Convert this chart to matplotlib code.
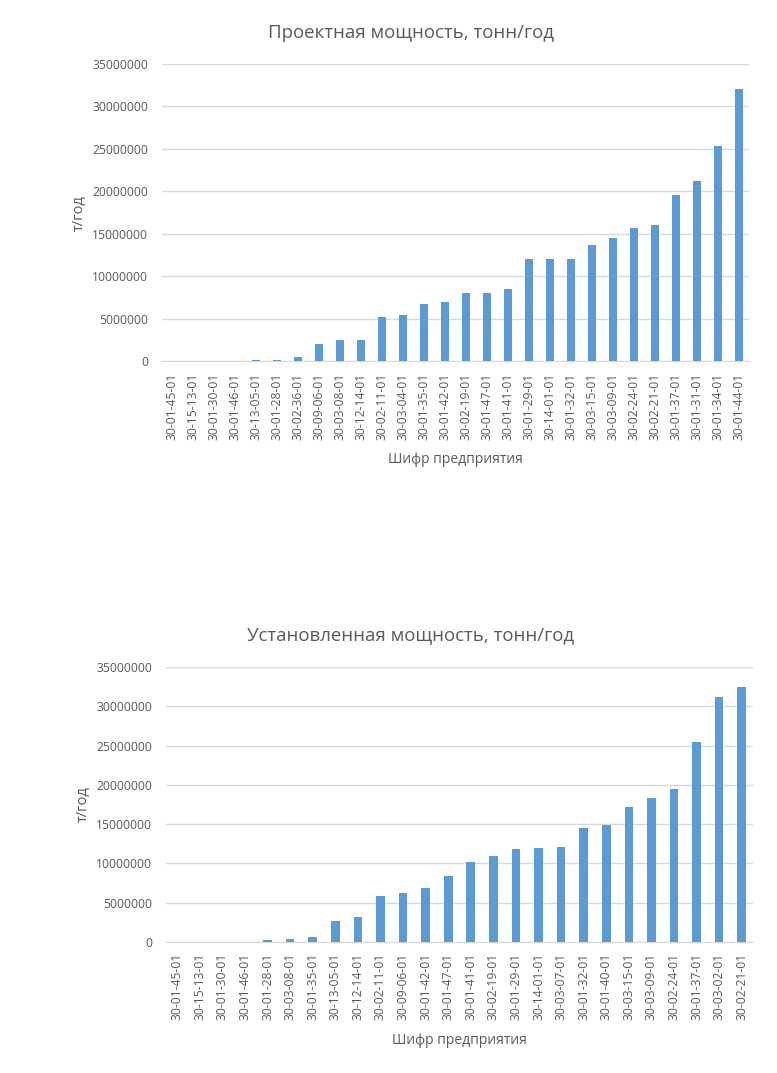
import matplotlib.pyplot as plt

# Проектная мощность
design_codes = ["30-01-45-01", "30-15-13-01", "30-01-30-01", "30-01-46-01", "30-13-05-01",
                "30-01-28-01", "30-02-36-01", "30-09-06-01", "30-03-08-01", "30-12-14-01",
                "30-02-11-01", "30-03-04-01", "30-01-35-01", "30-01-42-01", "30-02-19-01",
                "30-01-47-01", "30-01-41-01", "30-01-29-01", "30-14-01-01", "30-01-32-01",
                "30-03-15-01", "30-03-09-01", "30-02-24-01", "30-02-21-01", "30-01-37-01",
                "30-01-31-01", "30-01-34-01", "30-01-44-01"]
design_values = [0, 0, 0, 0, 150000,
                 220000, 500000, 2000000, 2500000, 2500000,
                 5250000, 5500000, 6750000, 7000000, 8000000,
                 8000000, 8500000, 12000000, 12000000, 12000000,
                 13700000, 14500000, 15700000, 16000000, 19600000,
                 21200000, 25400000, 32000000]

# Установленная мощность
installed_codes = ["30-01-45-01", "30-15-13-01", "30-01-30-01", "30-01-46-01", "30-01-28-01",
                   "30-03-08-01", "30-01-35-01", "30-13-05-01", "30-12-14-01", "30-02-11-01",
                   "30-09-06-01", "30-01-42-01", "30-01-47-01", "30-01-41-01", "30-02-19-01",
                   "30-01-29-01", "30-14-01-01", "30-03-07-01", "30-01-32-01", "30-01-40-01",
                   "30-03-15-01", "30-03-09-01", "30-02-24-01", "30-01-37-01", "30-03-02-01",
                   "30-02-21-01"]
installed_values = [0, 0, 0, 0, 200000,
                    350000, 640000, 2700000, 3200000, 5900000,
                    6200000, 6900000, 8400000, 10200000, 10900000,
                    11900000, 12000000, 12100000, 14500000, 14900000,
                    17200000, 18300000, 19500000, 25400000, 31200000,
                    32400000]

yticks = [0, 5000000, 10000000, 15000000, 20000000, 25000000, 30000000, 35000000]

plt.rcParams['font.family'] = ['Open Sans', 'DejaVu Sans']
TEXT = "#595959"
BAR = "#5B9BD5"
GRID = "#D9D9D9"

fig = plt.figure(figsize=(7.77, 10.73), dpi=100)
W, H = 777, 1073


def draw(rect, codes, values, title, title_y):
    l, t, r, b = rect
    ax = fig.add_axes([l / W, 1 - b / H, (r - l) / W, (b - t) / H])
    ax.bar(range(len(codes)), values, width=0.38, color=BAR, zorder=3)
    ax.set_xlim(-0.5, len(codes) - 0.5)
    ax.set_ylim(0, 35000000)
    ax.set_yticks(yticks)
    ax.set_yticklabels([str(v) for v in yticks])
    ax.set_xticks(range(len(codes)))
    ax.set_xticklabels(codes, rotation=90)
    ax.tick_params(axis='both', length=0, colors=TEXT, labelsize=8.7)
    ax.tick_params(axis='y', pad=10)
    ax.tick_params(axis='x', pad=8)
    ax.grid(axis='y', color=GRID, linewidth=1, zorder=0)
    for s in ['top', 'right', 'left']:
        ax.spines[s].set_visible(False)
    ax.spines['bottom'].set_color(GRID)
    ax.set_ylabel("т/год", color=TEXT, fontsize=10.5, labelpad=4)
    ax.set_xlabel("Шифр предприятия", color=TEXT, fontsize=10, labelpad=9)
    fig.text(411 / W, 1 - title_y / H, title, ha='center', va='center',
             color=TEXT, fontsize=13.4)
    return ax


draw((162, 64, 749, 361.5), design_codes, design_values,
     "Проектная мощность, тонн/год", 33)
draw((166, 667, 753, 942), installed_codes, installed_values,
     "Установленная мощность, тонн/год", 635)

fig.savefig("out.png", dpi=100)
